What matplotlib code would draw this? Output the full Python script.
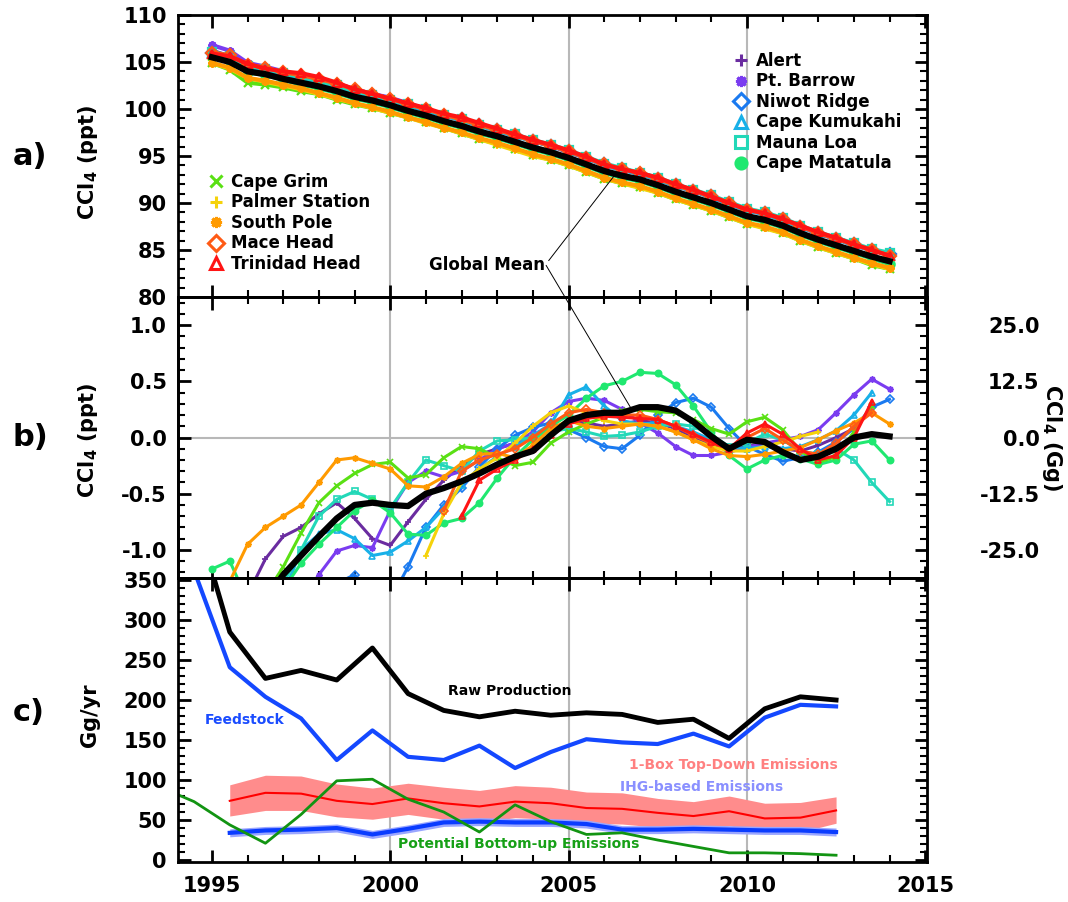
import numpy as np
import matplotlib
matplotlib.use("Agg")
import matplotlib.pyplot as plt
from matplotlib.lines import Line2D
from matplotlib.ticker import MultipleLocator, FormatStrFormatter

plt.rcParams["font.family"] = "DejaVu Sans"
plt.rcParams["font.weight"] = "bold"
plt.rcParams["axes.labelweight"] = "bold"
plt.rcParams["mathtext.default"] = "bf"
plt.rcParams["axes.unicode_minus"] = False

nan = np.nan

# half-year grid, 1995.0 ... 2014.0 (panels a and b)
YEARS = np.arange(1995.0, 2014.01, 0.5)
GRID_YEARS = [2000, 2005, 2010]

# ---- panel a: CCl4 mole fraction (ppt)
GLOBAL_A = [105.5, 105.0, 104.0, 103.7, 103.2, 102.8, 102.4, 101.9, 101.3, 100.9,
            100.4, 99.8, 99.3, 98.7, 98.2, 97.6, 97.1, 96.5, 95.9, 95.4,
            94.8, 94.1, 93.4, 92.9, 92.5, 91.9, 91.2, 90.6, 90.0, 89.3,
            88.6, 88.2, 87.6, 86.8, 86.1, 85.5, 84.9, 84.3, 83.8]
ALERT_A = [106.2, 105.6, 104.6, 104.3, 103.8, 103.5, 103.0, 102.6, 102.0, 101.6,
           101.1, 100.5, 99.9, 99.4, 98.8, 98.3, 97.7, 97.2, 96.6, 96.1,
           95.4, 94.8, 94.0, 93.6, 93.1, 92.6, 91.8, 91.3, 90.6, 90.0,
           89.2, 88.9, 88.2, 87.5, 86.7, 86.2, 85.5, 85.0, 84.5]
BARROW_A = [106.8, 106.2, 104.9, 104.5, 104.0, 103.6, 103.1, 102.7, 102.1, 101.6,
            101.2, 100.6, 100.0, 99.4, 98.9, 98.3, 97.8, 97.2, 96.6, 96.1,
            95.5, 94.8, 94.1, 93.6, 93.2, 92.6, 91.9, 91.3, 90.7, 90.0,
            89.3, 88.9, 88.3, 87.5, 86.8, 86.3, 85.6, 85.0, 84.5]
NIWOT_A = [106.0, 105.6, 104.5, 104.2, 103.7, 103.3, 102.9, 102.5, 101.9, 101.5,
           101.0, 100.4, 99.9, 99.3, 98.9, 98.3, 97.8, 97.2, 96.6, 96.1,
           95.5, 94.8, 94.1, 93.6, 93.1, 92.6, 91.9, 91.3, 90.7, 90.0,
           89.3, 88.9, 88.3, 87.5, 86.8, 86.2, 85.6, 85.0, 84.6]
KUMUKAHI_A = [106.0, 105.5, 104.5, 104.2, 103.8, 103.3, 102.9, 102.4, 101.8, 101.4,
              100.9, 100.4, 99.8, 99.3, 98.8, 98.2, 97.7, 97.1, 96.6, 96.1,
              95.5, 94.8, 94.0, 93.5, 93.1, 92.5, 91.8, 91.3, 90.6, 89.9,
              89.2, 88.8, 88.2, 87.4, 86.8, 86.2, 85.5, 85.0, 84.5]
MAUNALOA_A = [106.1, 105.6, 104.6, 104.3, 103.8, 103.4, 103.0, 102.5, 101.9, 101.5,
              101.0, 100.5, 100.0, 99.4, 98.9, 98.3, 97.8, 97.3, 96.7, 96.2,
              95.6, 94.9, 94.2, 93.7, 93.2, 92.7, 92.0, 91.4, 90.8, 90.1,
              89.4, 89.0, 88.4, 87.6, 86.9, 86.3, 85.7, 85.1, 84.7]
MATATULA_A = [105.6, 105.1, 103.9, 103.6, 103.1, 102.6, 102.2, 101.7, 101.1, 100.7,
              100.2, 99.6, 99.1, 98.5, 98.0, 97.4, 96.9, 96.3, 95.7, 95.2,
              94.6, 93.9, 93.2, 92.7, 92.3, 91.7, 91.0, 90.4, 89.8, 89.1,
              88.4, 88.0, 87.4, 86.6, 85.9, 85.3, 84.7, 84.1, 83.5]
GRIM_A = [104.9, 104.2, 102.8, 102.6, 102.3, 101.9, 101.6, 101.0, 100.5, 100.1,
          99.6, 99.1, 98.6, 98.0, 97.4, 96.8, 96.3, 95.7, 95.1, 94.6,
          94.0, 93.3, 92.6, 92.1, 91.7, 91.1, 90.4, 89.8, 89.2, 88.5,
          87.8, 87.4, 86.8, 86.0, 85.3, 84.7, 84.1, 83.4, 83.0]
PALMER_A = [104.9, 104.3, 103.3, 102.9, 102.5, 102.1, 101.6, 101.1, 100.6, 100.1,
            99.6, 99.1, 98.5, 98.0, 97.4, 96.8, 96.2, 95.6, 95.0, 94.6,
            94.0, 93.3, 92.6, 92.1, 91.6, 91.1, 90.4, 89.8, 89.2, 88.5,
            87.8, 87.3, 86.8, 86.0, 85.3, 84.7, 84.1, 83.5, 83.0]
SOUTHPOLE_A = [104.9, 104.4, 103.3, 103.0, 102.6, 102.2, 101.7, 101.2, 100.6, 100.2,
               99.7, 99.1, 98.6, 98.0, 97.5, 96.9, 96.4, 95.8, 95.2, 94.7,
               94.1, 93.4, 92.7, 92.2, 91.8, 91.2, 90.5, 89.9, 89.3, 88.6,
               87.9, 87.5, 86.9, 86.1, 85.4, 84.8, 84.2, 83.6, 83.1]
MACEHEAD_A = [106.0, 105.7, 104.7, 104.4, 103.9, 103.6, 103.2, 102.7, 102.1, 101.6,
              101.1, 100.5, 100.0, 99.4, 98.9, 98.3, 97.8, 97.2, 96.6, 96.1,
              95.5, 94.8, 94.1, 93.6, 93.2, 92.6, 91.9, 91.3, 90.7, 90.0,
              89.3, 88.9, 88.3, 87.5, 86.8, 86.2, 85.6, 85.0, 84.4]
TRINIDAD_A = [105.9, 105.6, 104.8, 104.3, 104.0, 103.8, 103.4, 102.8, 102.1, 101.6,
              101.1, 100.6, 100.1, 99.5, 99.1, 98.5, 97.9, 97.3, 96.7, 96.2,
              95.6, 94.9, 94.1, 93.6, 93.2, 92.7, 92.0, 91.4, 90.7, 90.0,
              89.3, 88.9, 88.3, 87.6, 86.9, 86.3, 85.6, 85.0, 84.4]

# ---- panel b: CCl4 anomalies (ppt)
GLOBAL_B = [nan, nan, nan, -1.45, -1.22, -1.05, -0.88, -0.72, -0.60, -0.58,
            -0.60, -0.61, -0.50, -0.45, -0.39, -0.32, -0.24, -0.17, -0.12, 0.02,
            0.15, 0.20, 0.22, 0.22, 0.27, 0.27, 0.24, 0.14, 0.01, -0.10,
            -0.02, -0.04, -0.13, -0.20, -0.17, -0.10, 0.00, 0.03, 0.01]
ALERT_B = [nan, nan, -1.40, -1.08, -0.88, -0.80, -0.68, -0.58, -0.72, -0.90,
           -0.96, -0.75, -0.55, -0.38, -0.25, -0.15, -0.10, -0.05, 0.00, 0.08,
           0.14, 0.13, 0.10, 0.12, 0.15, 0.13, 0.08, 0.00, -0.06, -0.10,
           -0.08, -0.05, -0.10, -0.12, -0.07, 0.00, 0.08, nan, nan]
BARROW_B = [nan, nan, nan, nan, nan, -1.45, -1.22, -1.01, -0.96, -0.98,
            -0.65, -0.40, -0.30, -0.35, -0.30, -0.20, -0.10, -0.05, 0.05, 0.22,
            0.32, 0.35, 0.33, 0.25, 0.13, 0.04, -0.08, -0.16, -0.16, -0.13,
            -0.09, -0.05, -0.02, 0.01, 0.07, 0.22, 0.38, 0.52, 0.43]
NIWOT_B = [nan, nan, nan, nan, nan, nan, -1.45, -1.30, -1.22, -1.45,
           -1.45, -1.15, -0.80, -0.60, -0.45, -0.26, -0.10, 0.02, 0.09, 0.13,
           0.07, 0.00, -0.08, -0.10, 0.02, 0.20, 0.31, 0.35, 0.27, 0.08,
           -0.08, -0.15, -0.21, -0.18, -0.13, -0.04, 0.08, 0.27, 0.34]
KUMUKAHI_B = [nan, nan, nan, nan, -1.40, -1.00, -0.86, -0.82, -0.90, -1.05,
              -1.02, -0.92, -0.80, -0.63, -0.42, -0.28, -0.17, -0.08, 0.02, 0.12,
              0.38, 0.45, 0.28, 0.15, 0.12, 0.13, 0.10, 0.05, -0.02, -0.08,
              -0.10, -0.08, -0.10, -0.08, -0.02, 0.06, 0.20, 0.40, nan]
MAUNALOA_B = [nan, nan, nan, nan, -1.30, -1.00, -0.70, -0.55, -0.48, -0.55,
              -0.63, -0.40, -0.20, -0.25, -0.30, -0.12, -0.03, -0.02, 0.00, 0.05,
              0.08, 0.05, 0.01, 0.02, 0.05, 0.10, 0.12, 0.10, 0.02, -0.08,
              -0.05, 0.03, -0.02, -0.12, -0.15, -0.10, -0.20, -0.40, -0.57]
MATATULA_B = [-1.17, -1.10, -1.45, -1.45, -1.35, -1.12, -0.95, -0.80, -0.65, -0.56,
              -0.67, -0.86, -0.87, -0.76, -0.72, -0.58, -0.36, -0.17, -0.02, 0.10,
              0.20, 0.35, 0.46, 0.50, 0.58, 0.57, 0.47, 0.28, 0.05, -0.16,
              -0.28, -0.20, -0.16, -0.19, -0.24, -0.20, -0.06, -0.03, -0.20]
GRIM_B = [nan, nan, nan, -1.40, -1.15, -0.85, -0.58, -0.43, -0.32, -0.24,
          -0.22, -0.36, -0.33, -0.18, -0.08, -0.10, -0.18, -0.25, -0.22, -0.05,
          0.05, 0.12, 0.18, 0.24, 0.25, 0.23, 0.22, 0.16, 0.08, 0.03,
          0.14, 0.18, 0.07, -0.12, -0.22, -0.17, 0.05, 0.28, nan]
PALMER_B = [nan, nan, nan, nan, nan, nan, nan, nan, nan, nan,
            nan, nan, -1.05, -0.68, -0.40, -0.28, -0.18, -0.05, 0.10, 0.22,
            0.28, 0.22, 0.15, 0.12, 0.12, 0.10, 0.05, -0.02, -0.08, -0.12,
            -0.12, -0.08, -0.04, 0.01, 0.05, nan, nan, nan, nan]
SOUTHPOLE_B = [nan, -1.28, -0.95, -0.80, -0.70, -0.60, -0.40, -0.20, -0.18, -0.23,
               -0.28, -0.43, -0.44, -0.35, -0.23, -0.15, -0.14, -0.18, -0.07, 0.08,
               0.15, 0.10, 0.08, 0.10, 0.12, 0.10, 0.05, -0.02, -0.10, -0.16,
               -0.17, -0.15, -0.12, -0.09, -0.02, 0.06, 0.13, 0.22, 0.12]
MACEHEAD_B = [nan, nan, nan, nan, nan, nan, nan, nan, nan, nan,
              nan, nan, nan, -0.65, -0.30, -0.20, -0.15, -0.10, 0.00, 0.12,
              0.22, 0.25, 0.22, 0.20, 0.20, 0.16, 0.10, 0.02, -0.05, -0.10,
              0.00, 0.08, -0.02, -0.12, -0.15, -0.05, 0.10, 0.22, nan]
TRINIDAD_B = [nan, nan, nan, nan, nan, nan, nan, nan, nan, nan,
              nan, nan, nan, nan, -0.70, -0.38, -0.28, -0.20, -0.10, 0.02,
              0.12, 0.17, 0.19, 0.18, 0.17, 0.16, 0.10, 0.03, -0.04, -0.10,
              0.04, 0.12, 0.03, -0.10, -0.20, -0.16, 0.00, 0.32, nan]

STATIONS = ["Alert", "Pt. Barrow", "Niwot Ridge", "Cape Kumukahi", "Mauna Loa",
            "Cape Matatula", "Cape Grim", "Palmer Station", "South Pole",
            "Mace Head", "Trinidad Head"]
SERIES_A = [ALERT_A, BARROW_A, NIWOT_A, KUMUKAHI_A, MAUNALOA_A, MATATULA_A,
            GRIM_A, PALMER_A, SOUTHPOLE_A, MACEHEAD_A, TRINIDAD_A]
SERIES_B = [ALERT_B, BARROW_B, NIWOT_B, KUMUKAHI_B, MAUNALOA_B, MATATULA_B,
            GRIM_B, PALMER_B, SOUTHPOLE_B, MACEHEAD_B, TRINIDAD_B]
COLORS = ["#6a2ca0", "#7a3cf0", "#1a7af0", "#18b0e8", "#22d8b8", "#20e870",
          "#5ae014", "#f5d20a", "#ff9a00", "#ff5a14", "#ff1414"]
STAR = (8, 2, 0)
MARKERS = ["+", STAR, "D", "^", "s", "o", "x", "+", STAR, "D", "^"]
OPEN = [False, False, True, True, True, False, False, False, False, True, True]
LEFT_LEGEND = ["Cape Grim", "Palmer Station", "South Pole", "Mace Head", "Trinidad Head"]
RIGHT_LEGEND = ["Alert", "Pt. Barrow", "Niwot Ridge", "Cape Kumukahi", "Mauna Loa",
                "Cape Matatula"]

# ---- panel c: Gg/yr
C_YEARS = [1994.5, 1995.5, 1996.5, 1997.5, 1998.5, 1999.5, 2000.5, 2001.5, 2002.5, 2003.5,
           2004.5, 2005.5, 2006.5, 2007.5, 2008.5, 2009.5, 2010.5, 2011.5, 2012.5]
RAW_PRODUCTION = [437, 285, 227, 237, 225, 265, 208, 187, 179, 186,
                  181, 184, 182, 172, 176, 152, 189, 204, 200]
FEEDSTOCK = [362, 241, 204, 177, 125, 162, 129, 125, 143, 115,
             135, 151, 147, 145, 158, 142, 178, 194, 192]
BU_YEARS = [1993.5] + C_YEARS
BOTTOM_UP = [92, 73, 44, 21, 57, 99, 101, 76, 60, 35,
             69, 48, 32, 34, 25, 17, 9, 9, 8, 6]
TD_YEARS = C_YEARS[1:]
TOP_DOWN = [74, 84, 83, 74, 70, 77, 71, 67, 73, 71, 65, 64, 59, 55, 61, 52, 53, 62]
TOP_DOWN_LO = [55, 62, 62, 54, 51, 57, 51, 47, 53, 51, 46, 45, 41, 37, 43, 34, 35, 46]
TOP_DOWN_HI = [94, 106, 105, 95, 90, 96, 91, 87, 93, 91, 85, 84, 77, 73, 80, 71, 72, 79]
IHG = [34, 37, 38, 40, 32, 39, 47, 48, 47, 47, 45, 38, 38, 39, 38, 37, 37, 35]
IHG_LO = [29, 32, 33, 35, 27, 34, 42, 43, 42, 42, 40, 33, 33, 34, 33, 32, 32, 30]
IHG_HI = [39, 42, 43, 45, 37, 44, 52, 53, 52, 52, 50, 43, 43, 44, 43, 42, 42, 40]


def style_axes(ax, ylim, major, minor):
    ax.set_xlim(1994.05, 2015.05)
    ax.set_ylim(*ylim)
    ax.xaxis.set_major_locator(MultipleLocator(5))
    ax.xaxis.set_minor_locator(MultipleLocator(1))
    ax.yaxis.set_major_locator(MultipleLocator(major))
    ax.yaxis.set_minor_locator(MultipleLocator(minor))
    ax.tick_params(which="both", direction="in", top=True, right=True,
                   labelsize=15, pad=8)
    ax.tick_params(which="major", length=9, width=2)
    ax.tick_params(which="minor", length=5, width=1.5)
    for sp in ax.spines.values():
        sp.set_linewidth(2)
    for yr in GRID_YEARS:
        ax.axvline(yr, color="#b8b8b8", lw=1.5, zorder=0)


fig = plt.figure(figsize=(10.68, 9.02), dpi=100)
ax_a = fig.add_axes([0.1667, 0.6707, 0.7013, 0.3127])
ax_b = fig.add_axes([0.1667, 0.3592, 0.7013, 0.3115])
ax_c = fig.add_axes([0.1667, 0.0443, 0.7013, 0.3149])

style_axes(ax_a, (80, 110), 5, 1)
style_axes(ax_b, (-1.25, 1.25), 0.5, 0.1)
style_axes(ax_c, (-2.5, 352.5), 50, 10)
ax_a.tick_params(labelbottom=False)
ax_b.tick_params(labelbottom=False, right=False, which="both")
ax_c.tick_params(axis="x", pad=10)
ax_b.yaxis.set_major_formatter(FormatStrFormatter("%.1f"))

# panel a
for vals, col, mk, op in zip(SERIES_A, COLORS, MARKERS, OPEN):
    ax_a.plot(YEARS, vals, color=col, lw=3, marker=mk, ms=6, mew=1.6,
              mfc="none" if op else col)
ax_a.plot(YEARS, GLOBAL_A, color="black", lw=4.5)

# panel b
ax_b.axhline(0, color="#b8b8b8", lw=1.5, zorder=0)
for vals, col, mk, op in zip(SERIES_B, COLORS, MARKERS, OPEN):
    ax_b.plot(YEARS, vals, color=col, lw=2.2, marker=mk, ms=4.5, mew=1.2,
              mfc="none" if op else col)
ax_b.plot(YEARS, GLOBAL_B, color="black", lw=4.5)

ax_b2 = ax_b.twinx()
ax_b2.set_ylim(-1.25 * 25, 1.25 * 25)
ax_b2.set_yticks([-25, -12.5, 0, 12.5, 25])
ax_b2.yaxis.set_minor_locator(MultipleLocator(2.5))
ax_b2.yaxis.set_major_formatter(FormatStrFormatter("%.1f"))
ax_b2.tick_params(which="both", direction="in", labelsize=15, pad=81)
ax_b2.tick_params(which="major", length=9, width=2)
ax_b2.tick_params(which="minor", length=5, width=1.5)
plt.setp(ax_b2.get_yticklabels(), ha="right")
for sp in ax_b2.spines.values():
    sp.set_linewidth(2)
ax_b2.set_ylabel("CCl$_4$ (Gg)", fontsize=15, rotation=270, va="bottom", labelpad=0)

# panel c
ax_c.fill_between(TD_YEARS, TOP_DOWN_LO, TOP_DOWN_HI, color="#ff8c8c", lw=0)
ax_c.fill_between(TD_YEARS, IHG_LO, IHG_HI, color="#9aa6ff", lw=0)
ax_c.plot(TD_YEARS, TOP_DOWN, color="#ff0000", lw=1.5)
ax_c.plot(TD_YEARS, IHG, color="#0a3cff", lw=3)
ax_c.plot(BU_YEARS, BOTTOM_UP, color="#129412", lw=2)
ax_c.plot(C_YEARS, FEEDSTOCK, color="#1448ff", lw=3)
ax_c.plot(C_YEARS, RAW_PRODUCTION, color="black", lw=3.5)

ax_c.text(2003.36, 211, "Raw Production", ha="center", va="center", fontsize=10)
ax_c.text(1994.81, 175, "Feedstock", ha="left", va="center", fontsize=10, color="#1a4cff")
ax_c.text(2012.56, 119, "1-Box Top-Down Emissions", ha="right", va="center",
          fontsize=10, color="#ff8080")
ax_c.text(2006.45, 91, "IHG-based Emissions", ha="left", va="center",
          fontsize=10, color="#8a90ff")
ax_c.text(2000.22, 20, "Potential Bottom-up Emissions", ha="left", va="center",
          fontsize=10, color="#17a017")

# legends in panel a
def handle(name):
    i = STATIONS.index(name)
    return Line2D([], [], ls="none", marker=MARKERS[i], color=COLORS[i], ms=8, mew=2.2,
                  mfc="none" if OPEN[i] else COLORS[i], label=name)

leg_kw = dict(loc="upper left", frameon=False, fontsize=12, handlelength=1.0,
              handletextpad=0.4, labelspacing=0.15, borderpad=0, borderaxespad=0)
leg1 = ax_a.legend(handles=[handle(n) for n in LEFT_LEGEND],
                   bbox_to_anchor=(0.039, 0.44), **leg_kw)
ax_a.add_artist(leg1)
ax_a.legend(handles=[handle(n) for n in RIGHT_LEGEND],
            bbox_to_anchor=(0.74, 0.869), **leg_kw)

# global mean pointer lines
ax_a.annotate("Global Mean", xy=(2006.3, 93.0), xytext=(2004.34, 83.37),
              ha="right", va="center", fontsize=12,
              arrowprops=dict(arrowstyle="-", color="black", lw=0.7,
                              relpos=(1, 0.5), shrinkA=1, shrinkB=0))
ax_b.annotate("", xy=(2006.75, 0.26), xytext=(2004.37, 83.37),
              textcoords=ax_a.transData, annotation_clip=False,
              arrowprops=dict(arrowstyle="-", color="black", lw=0.7,
                              shrinkA=0, shrinkB=0))

# axis labels and panel letters
ax_a.set_ylabel("CCl$_4$ (ppt)", fontsize=15)
ax_b.set_ylabel("CCl$_4$ (ppt)", fontsize=15)
ax_c.set_ylabel("Gg/yr", fontsize=15)
ax_a.yaxis.set_label_coords(-0.104, 0.479)
ax_b.yaxis.set_label_coords(-0.104, 0.491)
ax_c.yaxis.set_label_coords(-0.104, 0.518)

fig.text(0.012, 0.826, "a)", fontsize=22, va="center", ha="left")
fig.text(0.012, 0.5155, "b)", fontsize=22, va="center", ha="left")
fig.text(0.012, 0.2106, "c)", fontsize=22, va="center", ha="left")

fig.savefig("out.png", dpi=100)
